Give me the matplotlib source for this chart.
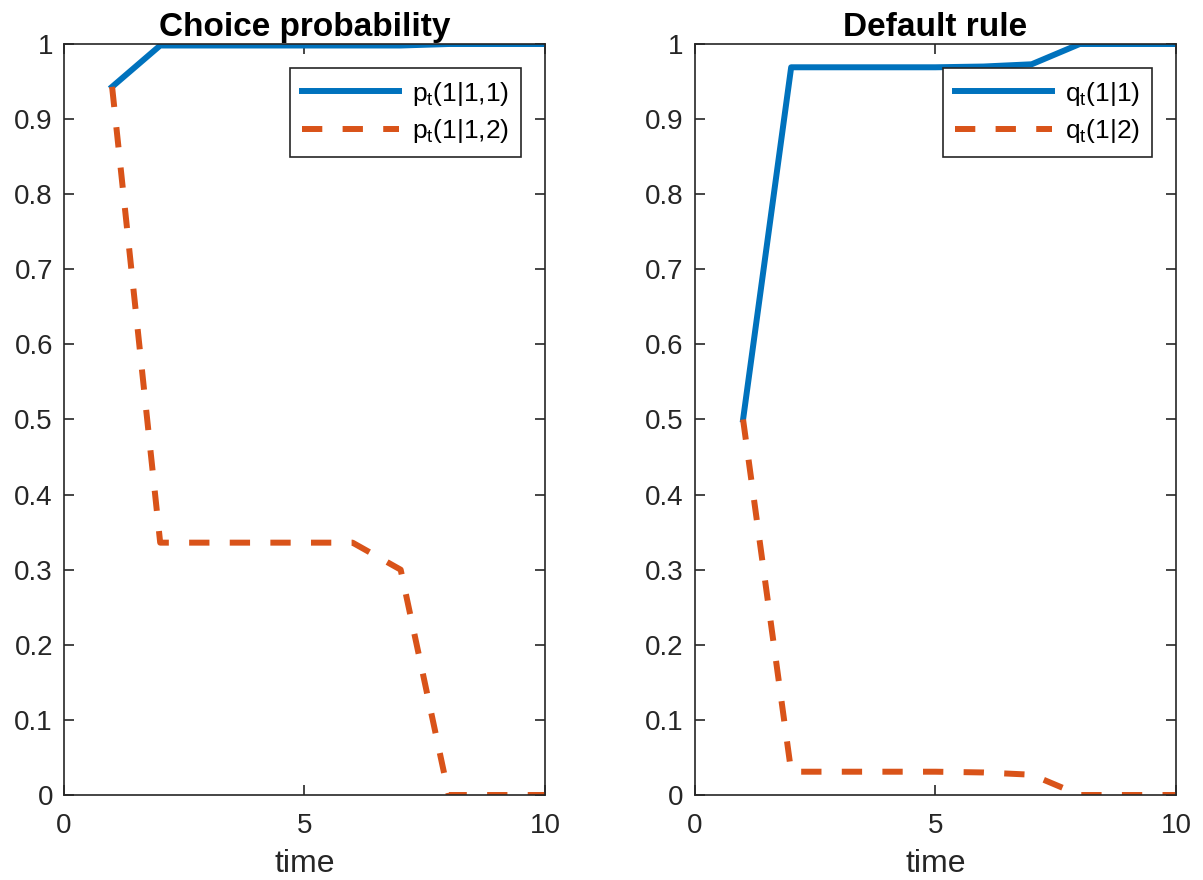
import numpy as np
import matplotlib
matplotlib.use('Agg')
import matplotlib.pyplot as plt

plt.rcParams['font.family'] = ['Liberation Sans', 'DejaVu Sans']
plt.rcParams['mathtext.fontset'] = 'custom'
plt.rcParams['mathtext.rm'] = 'Liberation Sans'
plt.rcParams['mathtext.it'] = 'Liberation Sans'
plt.rcParams['mathtext.default'] = 'regular'

# data
t = np.arange(1, 11)
p11 = [0.943, 0.998, 0.998, 0.998, 0.998, 0.998, 0.998, 1.0, 1.0, 1.0]
p12 = [0.943, 0.336, 0.336, 0.336, 0.336, 0.336, 0.300, 0.0, 0.0, 0.0]
q1 = [0.5, 0.969, 0.969, 0.969, 0.969, 0.970, 0.973, 1.0, 1.0, 1.0]
q2 = [0.5, 0.031, 0.031, 0.031, 0.031, 0.030, 0.027, 0.0, 0.0, 0.0]
yticklabels = ['0', '0.1', '0.2', '0.3', '0.4', '0.5', '0.6', '0.7', '0.8', '0.9', '1']

blue = '#0072BD'
red = '#D95319'
axcol = '#262626'

fig = plt.figure(figsize=(12.03, 8.8), dpi=100)
ax1 = fig.add_axes([0.0532, 0.0966, 0.3998, 0.8534])
ax2 = fig.add_axes([0.5777, 0.0966, 0.3998, 0.8534])

panels = [
    (ax1, p11, p12, 'Choice probability', r'p$_{t}$(1|1,1)', r'p$_{t}$(1|1,2)'),
    (ax2, q1, q2, 'Default rule', r'q$_{t}$(1|1)', r'q$_{t}$(1|2)'),
]

for ax, a, b, title, la, lb in panels:
    ax.plot(t, a, '-', color=blue, lw=4.3, label=la)
    ax.plot(t, b, '--', color=red, lw=4.3, dashes=(3.4, 3.4), label=lb)
    ax.set_xlim(0, 10)
    ax.set_ylim(0, 1)
    ax.set_xticks([0, 5, 10])
    ax.set_yticks(np.arange(0, 1.01, 0.1))
    ax.set_yticklabels(yticklabels)
    ax.tick_params(direction='in', top=True, right=True, labelsize=20, colors=axcol,
                   length=7, width=1.2)
    ax.tick_params(axis='x', pad=13)
    ax.tick_params(axis='y', pad=8)
    for s in ax.spines.values():
        s.set_color(axcol)
        s.set_linewidth(1.2)
    ax.set_title(title, fontsize=24, fontweight='bold', pad=6)
    ax.set_xlabel('time', fontsize=23, color=axcol, labelpad=7)
    leg = ax.legend(loc='upper right', fontsize=19, frameon=True, fancybox=False,
                    edgecolor=axcol, framealpha=1, handlelength=3.7, handletextpad=0.5,
                    borderaxespad=0.9, labelspacing=0.35, borderpad=0.45)
    leg.get_frame().set_linewidth(1.2)

fig.savefig('out.png', dpi=100)
